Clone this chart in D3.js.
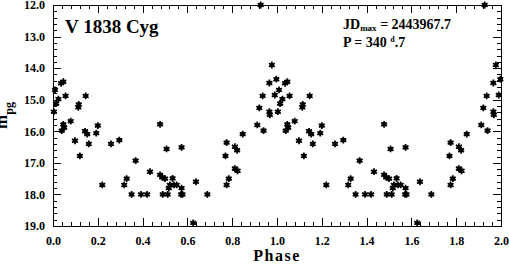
<!DOCTYPE html>
<html>
<head>
<meta charset="utf-8">
<script src="https://cdn.jsdelivr.net/npm/d3@7"></script>
<style>
  body { margin: 0; background: #fff; }
  svg { display: block; }
  text { font-family: "Liberation Serif", "Times New Roman", serif; font-weight: bold; fill: #000; }
  .axis path, .axis line { stroke: #000; stroke-width: 1; shape-rendering: crispEdges; }
  .axis text { font-size: 12px; }
  .star { fill: #000; stroke: #000; stroke-width: 1.7; }
</style>
</head>
<body>
<div id="chart"></div>
<script>

// observations folded on the period, phase 0..1 (plotted twice)
var phase = [0.004, 0.009, 0.014, 0.024, 0.036, 0.046, 0.056, 0.046, 0.050, 0.039,
             0.079, 0.098, 0.120, 0.115, 0.113, 0.146, 0.143, 0.153, 0.160, 0.193,
             0.200, 0.220, 0.259, 0.296, 0.318, 0.329, 0.351, 0.369, 0.393, 0.420,
             0.433, 0.478, 0.478, 0.488, 0.500, 0.490, 0.507, 0.512, 0.517, 0.522,
             0.534, 0.540, 0.552, 0.574, 0.574, 0.572, 0.578, 0.626, 0.638, 0.689,
             0.775, 0.770, 0.775, 0.785, 0.812, 0.822, 0.812, 0.824, 0.847, 0.912,
             0.921, 0.927, 0.936, 0.940, 0.966, 0.966, 0.968, 0.977, 0.990, 0.997];
var mag   = [15.38, 14.69, 15.12, 14.98, 14.48, 14.43, 14.88, 15.78, 15.88, 15.98,
             15.68, 16.30, 16.78, 15.15, 15.24, 14.88, 16.00, 16.09, 16.40, 16.06,
             15.82, 17.70, 16.40, 16.28, 17.70, 17.50, 18.00, 16.93, 18.00, 18.00,
             17.28, 15.78, 17.38, 17.46, 17.50, 18.00, 16.56, 18.00, 17.80, 17.70,
             17.49, 17.70, 17.70, 16.51, 17.80, 18.00, 18.00, 18.90, 17.60, 18.00,
             16.36, 16.78, 17.70, 17.50, 16.49, 16.60, 17.18, 17.25, 16.09, 15.80,
             15.26, 12.00, 14.88, 15.98, 14.47, 15.38, 15.48, 13.90, 14.85, 14.35];

var xMajor = [0, 0.2, 0.4, 0.6, 0.8, 1.0, 1.2, 1.4, 1.6, 1.8, 2.0];
var yMajor = [12, 13, 14, 15, 16, 17, 18, 19];

var width = 509, height = 264;
var margin = {top: 5, right: 8, bottom: 38, left: 53};
var w = width - margin.left - margin.right,
    h = height - margin.top - margin.bottom;

var svg = d3.select("#chart").append("svg")
  .attr("width", width)
  .attr("height", height);

var g = svg.append("g")
  .attr("transform", "translate(" + margin.left + "," + margin.top + ")");

var x = d3.scaleLinear().domain([0, 2]).range([0, w]);
var y = d3.scaleLinear().domain([12, 19]).range([0, h]);

var xMinor = d3.range(0, 2.0001, 0.04).filter(function(v) {
  return Math.abs(v / 0.2 - Math.round(v / 0.2)) > 1e-6;
});
var yMinor = d3.range(12, 19.0001, 0.2).filter(function(v) {
  return Math.abs(v - Math.round(v)) > 1e-6;
});

// bottom
g.append("g").attr("class", "axis")
  .attr("transform", "translate(0," + h + ")")
  .call(d3.axisBottom(x).tickValues(xMajor).tickSizeInner(-8).tickSizeOuter(0)
    .tickPadding(10.5).tickFormat(d3.format(".1f")));
g.append("g").attr("class", "axis")
  .attr("transform", "translate(0," + h + ")")
  .call(d3.axisBottom(x).tickValues(xMinor).tickSizeInner(-4).tickSizeOuter(0).tickFormat(""));

// top
g.append("g").attr("class", "axis")
  .call(d3.axisTop(x).tickValues(xMajor).tickSizeInner(-8).tickSizeOuter(0).tickFormat(""));
g.append("g").attr("class", "axis")
  .call(d3.axisTop(x).tickValues(xMinor).tickSizeInner(-4).tickSizeOuter(0).tickFormat(""));

// left
g.append("g").attr("class", "axis")
  .call(d3.axisLeft(y).tickValues(yMajor).tickSizeInner(-8).tickSizeOuter(0)
    .tickPadding(8).tickFormat(d3.format(".1f")));
g.append("g").attr("class", "axis")
  .call(d3.axisLeft(y).tickValues(yMinor).tickSizeInner(-4).tickSizeOuter(0).tickFormat(""));

// right
g.append("g").attr("class", "axis")
  .attr("transform", "translate(" + w + ",0)")
  .call(d3.axisRight(y).tickValues(yMajor).tickSizeInner(-8).tickSizeOuter(0).tickFormat(""));
g.append("g").attr("class", "axis")
  .attr("transform", "translate(" + w + ",0)")
  .call(d3.axisRight(y).tickValues(yMinor).tickSizeInner(-4).tickSizeOuter(0).tickFormat(""));

// points, each phase drawn at p and p+1
var pts = [];
phase.forEach(function(p, i) {
  pts.push({p: p, m: mag[i]});
  if (p + 1 <= 2.005) pts.push({p: p + 1, m: mag[i]});
});

var star = d3.symbol().type(d3.symbolAsterisk).size(32);

var marks = g.append("g").selectAll(".star")
  .data(pts)
  .enter().append("g")
  .attr("class", "star")
  .attr("transform", function(d) { return "translate(" + x(d.p) + "," + y(d.m) + ")"; });
marks.append("path").attr("d", star);
marks.append("circle").attr("r", 2.3).attr("stroke", "none");

// labels
svg.append("text")
  .attr("x", 65).attr("y", 33)
  .style("font-size", "19px")
  .text("V 1838 Cyg");

var jd = svg.append("text").attr("x", 343).attr("y", 28.5).style("font-size", "14px");
jd.append("tspan").text("JD");
jd.append("tspan").attr("dy", 2.5).style("font-size", "9px").text("max");
jd.append("tspan").attr("dy", -2.5).text(" = 2443967.7");

var per = svg.append("text").attr("x", 343).attr("y", 47).style("font-size", "14px");
per.append("tspan").text("P = 340 ");
per.append("tspan").attr("dy", -5).style("font-size", "8px").text("d");
per.append("tspan").attr("dy", 5).text(".7");

svg.append("text")
  .attr("x", margin.left + w / 2).attr("y", 261)
  .attr("text-anchor", "middle")
  .style("font-size", "16px")
  .style("letter-spacing", "1.5px")
  .text("Phase");

var yl = svg.append("text")
  .attr("transform", "translate(7," + (margin.top + h / 2) + ") rotate(-90)")
  .attr("text-anchor", "middle")
  .style("font-size", "17px");
yl.append("tspan").text("m");
yl.append("tspan").attr("dy", 5.5).style("font-size", "12px").text("pg");

</script>
</body>
</html>
